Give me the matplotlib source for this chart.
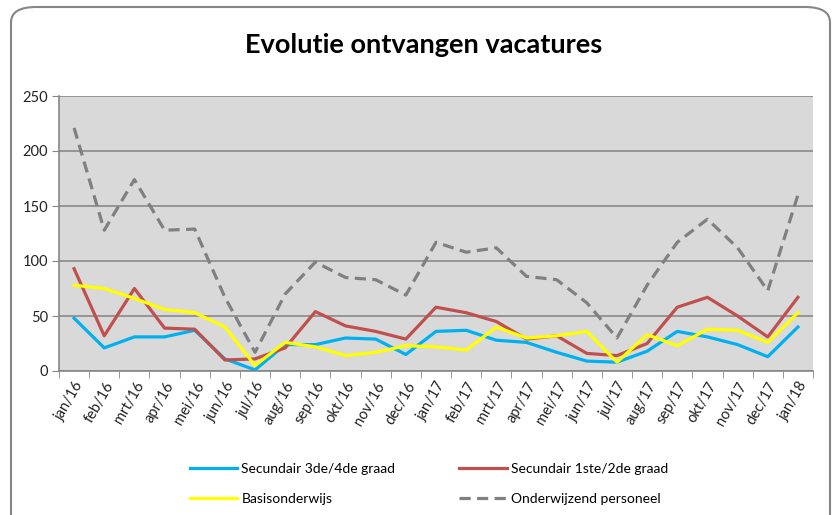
#!/usr/bin/env python3
"""Evolutie ontvangen vacatures"""
import matplotlib as mpl
mpl.use('Agg')
import matplotlib.pyplot as plt
from matplotlib.patches import FancyBboxPatch
import numpy as np

months = ["jan/16", "feb/16", "mrt/16", "apr/16", "mei/16", "jun/16", "jul/16",
          "aug/16", "sep/16", "okt/16", "nov/16", "dec/16", "jan/17", "feb/17",
          "mrt/17", "apr/17", "mei/17", "jun/17", "jul/17", "aug/17", "sep/17",
          "okt/17", "nov/17", "dec/17", "jan/18"]
sec34 = [48, 21, 31, 31, 37, 11, 1, 24, 24, 30, 29, 15, 36, 37, 28, 26, 17, 9, 8,
         18, 36, 31, 24, 13, 40]
sec12 = [93, 32, 75, 39, 38, 10, 11, 21, 54, 41, 36, 29, 58, 53, 45, 29, 32, 16, 14,
         25, 58, 67, 50, 31, 67]
basis = [78, 75, 66, 56, 53, 40, 5, 26, 22, 14, 17, 23, 22, 19, 40, 30, 32, 36, 8,
         33, 23, 38, 37, 26, 53]
personeel = [221, 128, 174, 128, 129, 67, 17, 70, 99, 85, 83, 69, 117, 108, 112, 86,
             83, 62, 30, 78, 117, 138, 112, 73, 160]

plt.rcParams['font.family'] = ['Lato', 'DejaVu Sans']

W, H = 837, 515
fig = plt.figure(figsize=(W / 100, H / 100), dpi=100)

# rounded chart border
frame = FancyBboxPatch((11 / W, -20 / H), 819 / W, (H - 7 + 20) / H,
                       boxstyle="round,pad=0,rounding_size=0.03",
                       transform=fig.transFigure, facecolor='white',
                       edgecolor='#868686', linewidth=1.5, zorder=-10)
fig.patches.append(frame)

ax = fig.add_axes([59 / W, 1 - 371 / H, (813 - 59) / W, (371 - 96) / H])
ax.set_facecolor('#D9D9D9')
x = np.arange(len(months))

l1, = ax.plot(x, sec34, color='#00B0F0', lw=2.3, label='Secundair 3de/4de graad')
l2, = ax.plot(x, sec12, color='#C0504D', lw=2.3, label='Secundair 1ste/2de graad')
l3, = ax.plot(x, basis, color='#FFFF00', lw=2.3, label='Basisonderwijs')
l4, = ax.plot(x, personeel, color='#808080', lw=2.3, ls=(0, (3.5, 2)),
              label='Onderwijzend personeel')

ax.set_xlim(-0.5, len(months) - 0.5)
ax.set_ylim(0, 250)
ax.set_yticks(range(0, 251, 50))
ax.yaxis.grid(True, color='#898989', lw=1.2)
ax.set_axisbelow(True)

ax.set_xticks(x)
ax.set_xticklabels(months, rotation=60, ha='right', rotation_mode='anchor',
                   fontsize=10.5, color='#222222')
ax.set_xticks(np.arange(-0.5, len(months)), minor=True)
ax.tick_params(axis='x', which='major', length=0, pad=6)
ax.tick_params(axis='x', which='minor', length=5, color='#868686')
ax.tick_params(axis='y', length=5, color='#868686', labelsize=10.5,
               labelcolor='#222222', pad=3)
for s in ['top', 'right']:
	ax.spines[s].set_visible(False)
for s in ['left', 'bottom']:
	ax.spines[s].set_color('#868686')
	ax.spines[s].set_linewidth(1.2)

fig.text(0.506, 1 - 45 / H, 'Evolutie ontvangen vacatures', ha='center',
         va='center', fontsize=19.5, fontweight='bold')

# legend filled column-wise: order so rows read sec34|sec12, basis|personeel
fig.legend([l1, l3, l2, l4], [l.get_label() for l in (l1, l3, l2, l4)],
           loc='center', bbox_to_anchor=(429 / W, 1 - 484 / H), ncol=2,
           frameon=False, fontsize=10, handlelength=3.4, handletextpad=0.3,
           columnspacing=4.6, labelspacing=1.3)

fig.savefig('out.png', dpi=100)
